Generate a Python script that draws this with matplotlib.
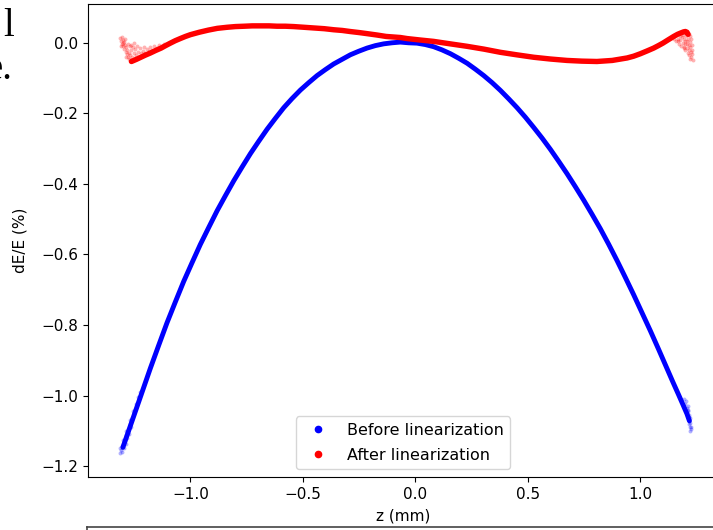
import matplotlib
matplotlib.use("Agg")
import matplotlib.pyplot as plt
from matplotlib.lines import Line2D

plt.rcParams['font.size'] = 11

# ---- data (z in mm, dE/E in %) ----
before_z = [-1.300, -1.252, -1.215, -1.178, -1.141, -1.104, -1.067, -1.030, -0.993, -0.956,
            -0.918, -0.881, -0.844, -0.807, -0.770, -0.733, -0.696, -0.659, -0.622, -0.585,
            -0.548, -0.511, -0.474, -0.437, -0.400, -0.363, -0.326, -0.289, -0.252, -0.215,
            -0.178, -0.141, -0.104, -0.067, -0.030, 0.007, 0.044, 0.081, 0.118, 0.156,
            0.193, 0.230, 0.267, 0.304, 0.341, 0.378, 0.415, 0.452, 0.489, 0.526,
            0.563, 0.600, 0.637, 0.674, 0.711, 0.748, 0.785, 0.822, 0.859, 0.896,
            0.933, 0.970, 1.007, 1.044, 1.081, 1.118, 1.144, 1.170, 1.190, 1.207,
            1.218]
before_y = [-1.147, -1.059, -0.991, -0.923, -0.858, -0.794, -0.735, -0.677, -0.624, -0.572,
            -0.523, -0.476, -0.433, -0.391, -0.352, -0.314, -0.279, -0.245, -0.214, -0.184,
            -0.158, -0.134, -0.113, -0.093, -0.076, -0.060, -0.047, -0.034, -0.024, -0.015,
            -0.008, -0.003, 0.000, 0.002, 0.000, -0.001, -0.005, -0.011, -0.020, -0.031,
            -0.044, -0.058, -0.075, -0.093, -0.113, -0.135, -0.159, -0.184, -0.211, -0.240,
            -0.270, -0.302, -0.336, -0.371, -0.408, -0.446, -0.486, -0.527, -0.571, -0.617,
            -0.665, -0.714, -0.765, -0.816, -0.869, -0.923, -0.961, -0.998, -1.027, -1.052,
            -1.072]

after_z = [-1.262, -1.240, -1.220, -1.200, -1.178, -1.155, -1.130, -1.110, -1.089, -1.067,
           -1.045, -1.022, -1.000, -0.960, -0.920, -0.880, -0.837, -0.800, -0.760, -0.725,
           -0.689, -0.650, -0.615, -0.578, -0.541, -0.495, -0.450, -0.405, -0.363, -0.325,
           -0.290, -0.250, -0.215, -0.170, -0.130, -0.067, -0.037, 0.020, 0.081, 0.155,
           0.230, 0.305, 0.378, 0.450, 0.526, 0.600, 0.674, 0.740, 0.807, 0.875,
           0.941, 0.970, 1.000, 1.030, 1.059, 1.080, 1.100, 1.125, 1.148, 1.165,
           1.180, 1.192, 1.200, 1.207, 1.212]
after_y = [-0.053, -0.047, -0.041, -0.035, -0.029, -0.022, -0.015, -0.008, -0.001, 0.006,
           0.012, 0.018, 0.023, 0.030, 0.036, 0.041, 0.044, 0.046, 0.047, 0.048,
           0.048, 0.048, 0.047, 0.047, 0.046, 0.044, 0.042, 0.040, 0.037, 0.035,
           0.032, 0.029, 0.026, 0.022, 0.018, 0.015, 0.012, 0.008, 0.004, -0.003,
           -0.010, -0.018, -0.027, -0.034, -0.041, -0.046, -0.050, -0.052, -0.053, -0.050,
           -0.043, -0.038, -0.031, -0.023, -0.015, -0.008, -0.001, 0.009, 0.018, 0.024,
           0.028, 0.031, 0.032, 0.030, 0.024]

# loose points at the ends of the two series
before_end_z = [-1.315, -1.312, -1.310, -1.306, -1.305, -1.300, -1.296, -1.292, -1.288, -1.284,
                -1.280, -1.276, -1.272, -1.268, -1.264, -1.258, -1.252, -1.246, -1.240, -1.300,
                -1.285, -1.270, -1.255, -1.232, -1.225,
                1.195, 1.200, 1.205, 1.208, 1.212, 1.214, 1.216, 1.218, 1.220, 1.222,
                1.219, 1.221, 1.211, 1.203, 1.224, 1.217, 1.223, 1.210]
before_end_y = [-1.162, -1.150, -1.155, -1.160, -1.142, -1.140, -1.150, -1.128, -1.138, -1.112,
                -1.120, -1.100, -1.108, -1.082, -1.090, -1.065, -1.050, -1.040, -1.025, -1.125,
                -1.100, -1.070, -1.045, -1.005, -0.990,
                -1.010, -1.025, -1.035, -1.050, -1.045, -1.060, -1.070, -1.080, -1.090, -1.100,
                -1.065, -1.078, -1.030, -1.015, -1.088, -1.055, -1.095, -1.040]

after_end_z = [-1.314, -1.310, -1.306, -1.303, -1.300, -1.298, -1.295, -1.293, -1.290, -1.288,
               -1.285, -1.283, -1.280, -1.278, -1.275, -1.272, -1.270, -1.268, -1.265, -1.262,
               -1.258, -1.255, -1.252, -1.248, -1.245, -1.240, -1.236, -1.232, -1.228, -1.222,
               -1.218, -1.212, -1.205, -1.200, -1.192, -1.185, -1.178, -1.170, -1.160, -1.150,
               -1.140, -1.128, -1.115, -1.300, -1.308, -1.292, -1.277, -1.262, -1.250, -1.286,
               1.150, 1.158, 1.165, 1.170, 1.175, 1.180, 1.185, 1.188, 1.192, 1.195,
               1.198, 1.200, 1.203, 1.205, 1.207, 1.210, 1.212, 1.214, 1.216, 1.218,
               1.220, 1.222, 1.224, 1.226, 1.228, 1.230, 1.232, 1.228, 1.219, 1.225,
               1.214, 1.190, 1.178, 1.168, 1.200, 1.209, 1.221, 1.196]
after_end_y = [0.014, 0.006, 0.016, -0.002, 0.009, -0.010, 0.002, -0.018, -0.006, -0.026,
               -0.012, -0.033, -0.020, -0.040, -0.028, -0.046, -0.010, -0.034, -0.050, -0.020,
               -0.040, -0.012, -0.030, -0.044, -0.018, -0.035, -0.010, -0.026, -0.040, -0.016,
               -0.030, -0.022, -0.013, -0.028, -0.018, -0.024, -0.012, -0.020, -0.010, -0.016,
               -0.006, -0.010, -0.002, 0.000, -0.008, 0.012, -0.002, -0.005, 0.000, -0.040,
               0.010, 0.004, 0.012, -0.002, 0.008, -0.008, 0.016, 0.000, -0.012, 0.010,
               -0.004, -0.020, 0.018, 0.004, -0.014, -0.028, 0.010, -0.006, -0.020, -0.034,
               0.002, -0.012, -0.026, -0.040, -0.006, -0.020, -0.048, -0.032, 0.020, 0.012,
               0.024, 0.022, 0.018, 0.004, 0.006, -0.002, -0.045, -0.016]

labels = ["Before linearization", "After linearization"]
x_label = "z (mm)"
y_label = "dE/E (%)"

# ---- figure ----
fig = plt.figure(figsize=(7.13, 5.30), dpi=100)
ax = fig.add_axes([88 / 713, 53 / 530, 630 / 713, 473 / 530])
ax.spines['right'].set_visible(False)

ax.scatter(before_end_z, before_end_y, s=8, color='blue', alpha=0.3, linewidths=0)
ax.scatter(after_end_z, after_end_y, s=8, color='red', alpha=0.3, linewidths=0)
ax.plot(before_z, before_y, color='blue', lw=3.5, solid_capstyle='round', solid_joinstyle='round')
ax.plot(after_z, after_y, color='red', lw=3.9, solid_capstyle='round', solid_joinstyle='round')

ax.set_xlim(-1.455, 1.345)
ax.set_ylim(-1.231, 0.110)
ax.set_xlabel(x_label, labelpad=5)
ax.set_ylabel(y_label, labelpad=10)

handles = [Line2D([], [], marker='o', linestyle='none', color='blue', markersize=4.5),
           Line2D([], [], marker='o', linestyle='none', color='red', markersize=4.5)]
ax.legend(handles, labels, loc='lower center', fontsize=11.5, labelspacing=0.62)

# fragments of the surrounding page visible in the screenshot
fig.text(14 / 713, 1 - 36 / 530, "l", ha='right', va='baseline', fontsize=28,
         family='Liberation Serif')
fig.text(12.5 / 713, 1 - 79 / 530, "e.", ha='right', va='baseline', fontsize=28,
         family='Liberation Serif')
fig.add_artist(Line2D([87 / 713, 1.0], [1 - 527 / 530, 1 - 527 / 530],
                      transform=fig.transFigure, color='#444444', lw=1.2))
fig.add_artist(Line2D([87 / 713, 87 / 713], [1 - 527 / 530, 0.0],
                      transform=fig.transFigure, color='#444444', lw=1.2))

fig.savefig("out.png", dpi=100)
